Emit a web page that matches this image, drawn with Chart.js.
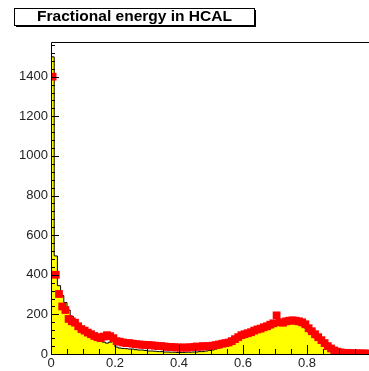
<!DOCTYPE html>
<html>
<head>
<meta charset="utf-8">
<script src="https://cdn.jsdelivr.net/npm/chart.js@4/dist/chart.umd.min.js"></script>
<style>
  html, body { margin: 0; padding: 0; background: #fff; }
  #wrap { width: 369px; height: 371px; position: relative; }
</style>
</head>
<body>
<div id="wrap"><canvas id="myChart" width="369" height="371"></canvas></div>
<script>
// Fractional energy in HCAL - 100 bins from 0 to 1
var binEdges = [0, 1];
var nBins = 100;

// yellow histogram (bin contents)
var histValues = [
  1500, 495, 345, 295, 260, 222, 190, 165, 150, 135,
  125, 115, 100, 90, 80, 70, 60, 55, 60, 65,
  35, 30, 28, 27, 25, 25, 22, 20, 20, 18,
  15, 15, 14, 12, 12, 10, 10, 9, 9, 8,
  8, 8, 9, 9, 10, 10, 12, 12, 15, 18,
  20, 25, 30, 38, 42, 48, 55, 62, 72, 82,
  88, 92, 97, 104, 110, 114, 120, 125, 132, 138,
  150, 144, 145, 150, 152, 155, 152, 148, 142, 132,
  112, 98, 82, 68, 54, 40, 26, 14, 6, 0,
  0, 0, 0, 0, 0, 0, 0, 0, 0, 0
];

// red markers
var markerValues = [
  1400, 400, 303, 240, 222, 177, 165, 158, 140, 126,
  118, 108, 100, 91, 85, 80, 88, 95, 90, 80,
  65, 62, 58, 55, 55, 52, 50, 48, 47, 46,
  45, 44, 42, 40, 40, 38, 36, 35, 34, 33,
  32, 33, 32, 34, 35, 38, 36, 40, 38, 40,
  42, 45, 48, 52, 55, 58, 65, 75, 85, 95,
  100, 105, 110, 118, 124, 128, 135, 140, 148, 155,
  195, 160, 158, 165, 168, 170, 168, 165, 160, 150,
  130, 115, 100, 85, 70, 55, 40, 28, 18, 12,
  8, 6, 5, 4, 4, 3, 3, 3, 2, 2
];

var xTicks = [0, 0.2, 0.4, 0.6, 0.8];
var yTicks = [0, 200, 400, 600, 800, 1000, 1200, 1400];

var binW = (binEdges[1] - binEdges[0]) / nBins;

var histPts = [];
for (var i = 0; i < nBins; i++) {
  histPts.push({ x: binEdges[0] + i * binW, y: histValues[i] });
}
histPts.push({ x: binEdges[1], y: 0 });

var markPts = [];
for (var j = 0; j < nBins; j++) {
  markPts.push({ x: binEdges[0] + (j + 0.5) * binW, y: markerValues[j] });
}

// frame box like the ROOT pad: right edge runs off the canvas
var frame = { left: 51, top: 42, right: 371, bottom: 354 };

var fixFrame = {
  id: 'fixFrame',
  afterLayout: function (chart) {
    var ca = chart.chartArea;
    ca.left = frame.left; ca.right = frame.right;
    ca.top = frame.top; ca.bottom = frame.bottom;
    ca.width = frame.right - frame.left;
    ca.height = frame.bottom - frame.top;

    var xs = chart.scales.x;
    xs.left = frame.left; xs.right = frame.right; xs.width = ca.width;
    xs.top = frame.bottom; xs.bottom = chart.height; xs.height = xs.bottom - xs.top;
    xs.configure();

    var ys = chart.scales.y;
    ys.left = 0; ys.right = frame.left; ys.width = frame.left;
    ys.top = frame.top; ys.bottom = frame.bottom; ys.height = ca.height;
    ys.configure();
  }
};

// title box + frame + inward ROOT style ticks
var rootStyle = {
  id: 'rootStyle',
  afterDraw: function (chart) {
    var ctx = chart.ctx;
    var ca = chart.chartArea;
    var xs = chart.scales.x, ys = chart.scales.y;
    ctx.save();
    ctx.strokeStyle = '#000';
    ctx.lineWidth = 1;

    // frame top + left + bottom
    ctx.beginPath();
    ctx.moveTo(ca.left + 0.5, ca.bottom);
    ctx.lineTo(ca.left + 0.5, ca.top + 0.5);
    ctx.lineTo(ca.right, ca.top + 0.5);
    ctx.moveTo(ca.left, ca.bottom + 0.5);
    ctx.lineTo(ca.right, ca.bottom + 0.5);
    ctx.stroke();

    // y ticks
    ctx.beginPath();
    for (var v = 0; v <= 1560; v += 40) {
      var py = Math.round(ys.getPixelForValue(v)) + 0.5;
      var len = (v % 200 === 0) ? 8 : 4;
      ctx.moveTo(ca.left, py);
      ctx.lineTo(ca.left + len, py);
    }
    // x ticks
    for (var k = 0; k <= 20; k++) {
      var xv = k * 0.05;
      var px = Math.round(xs.getPixelForValue(xv)) + 0.5;
      var l2 = (k % 4 === 0) ? 9 : 5;
      ctx.moveTo(px, ca.bottom);
      ctx.lineTo(px, ca.bottom - l2);
    }
    ctx.stroke();

    // title box
    var bx = 14, by = 8, bw = 240, bh = 17;
    ctx.fillStyle = '#000';
    ctx.fillRect(bx + 2, by + 2, bw, bh);
    ctx.fillStyle = '#fff';
    ctx.fillRect(bx, by, bw, bh);
    ctx.strokeRect(bx + 0.5, by + 0.5, bw, bh);

    ctx.font = 'bold 14px "Liberation Sans", Arial, sans-serif';
    ctx.textBaseline = 'alphabetic';
    ctx.textAlign = 'left';
    var title = 'Fractional energy in HCAL';
    var tw = ctx.measureText(title).width;
    var sx = 195 / tw;
    ctx.translate(37, 21);
    ctx.scale(sx, 1);
    ctx.fillStyle = '#000';
    ctx.fillText(title, 0, 0);
    ctx.restore();
  }
};

var ctx = document.getElementById('myChart').getContext('2d');
var myChart = new Chart(ctx, {
  data: {
    datasets: [
      {
        type: 'scatter',
        data: markPts,
        pointStyle: 'rect',
        pointRadius: 5.5,
        pointHoverRadius: 5.5,
        backgroundColor: '#ff0000',
        borderWidth: 0,
        order: 0
      },
      {
        type: 'line',
        data: histPts,
        stepped: true,
        fill: 'origin',
        backgroundColor: '#ffff00',
        borderColor: '#000',
        borderWidth: 1,
        pointRadius: 0,
        order: 1
      }
    ]
  },
  options: {
    responsive: false,
    animation: false,
    events: [],
    layout: { padding: { left: 0, top: 42, right: 0, bottom: 0 } },
    plugins: { legend: { display: false }, tooltip: { enabled: false } },
    scales: {
      x: {
        type: 'linear',
        min: 0,
        max: 1,
        afterBuildTicks: function (s) { s.ticks = xTicks.map(function (v) { return { value: v }; }); },
        grid: { display: false, drawTicks: false },
        border: { display: false },
        ticks: {
          padding: 2,
          color: '#222',
          font: { family: '"Liberation Sans", Arial, sans-serif', size: 13 },
          callback: function (v) { return v === 0 ? '0' : v.toFixed(1); },
          maxRotation: 0,
          autoSkip: false
        }
      },
      y: {
        min: 0,
        max: 1575,
        afterBuildTicks: function (s) { s.ticks = yTicks.map(function (v) { return { value: v }; }); },
        grid: { display: false, drawTicks: false },
        border: { display: false },
        ticks: {
          padding: 3,
          color: '#222',
          font: { family: '"Liberation Sans", Arial, sans-serif', size: 13 },
          callback: function (v) { return String(v); },
          autoSkip: false
        }
      }
    }
  },
  plugins: [fixFrame, rootStyle]
});
</script>
</body>
</html>
